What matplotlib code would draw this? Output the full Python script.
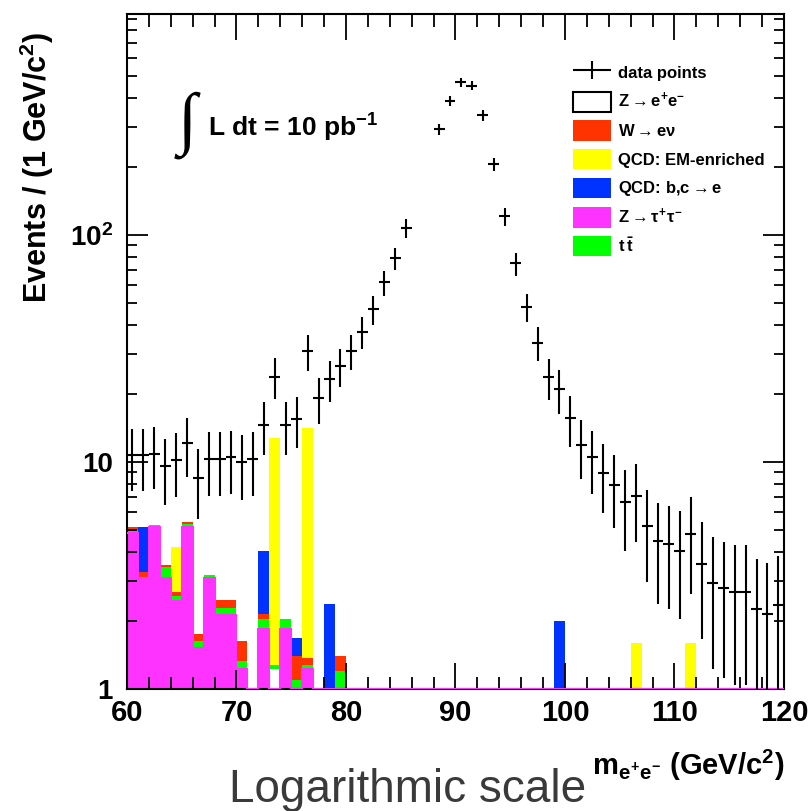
import numpy as np
import matplotlib
matplotlib.use("Agg")
import matplotlib.pyplot as plt
from matplotlib.patches import Patch
from matplotlib.legend_handler import HandlerErrorbar
from matplotlib.ticker import FixedLocator, MultipleLocator, FuncFormatter, LogLocator, NullFormatter

plt.rcParams['font.family'] = ['Liberation Sans', 'DejaVu Sans']
plt.rcParams['font.weight'] = 'bold'
plt.rcParams['mathtext.fontset'] = 'custom'
plt.rcParams['mathtext.rm'] = 'Liberation Sans:bold'
plt.rcParams['mathtext.it'] = 'Liberation Sans:bold'
plt.rcParams['mathtext.bf'] = 'Liberation Sans:bold'

# 1 GeV bins from 60 to 120
bin_edges = np.arange(60, 121, 1)

# observed events per bin (nan = no point drawn)
data_points = [
    10.7, 10.7, 10.9, 9.6, 10.2, 12.1, 8.5, 10.3, 10.3, 10.5,
    10.0, 10.3, 14.5, 23.8, 14.5, 15.5, 30.8, 19.1, 23.2, 26.5,
    30.9, 37.5, 47.2, 61.9, 78.9, 107, np.nan, np.nan, 293, 389,
    473, 455, 338, 205, 121, 75, 48.2, 33.6, 23.6, 20.9,
    15.6, 11.9, 10.5, 8.97, 7.92, 6.64, 7.10, 5.24, 4.50, 4.34,
    4.05, 4.80, 3.55, 2.94, 2.79, 2.68, 2.68, 2.25, 2.14, 2.34,
]

# MC contributions per bin, stacked bottom -> top
z_ee = [0] * 13 + [1.22] + [0] * 46
z_tautau = [
    4.85, 3.08, 5.19, 3.08, 2.44, 5.20, 1.51, 3.08, 2.12, 2.12,
    1.22, 0, 1.83, 0, 1.83, 0, 1.22, 0, 0, 0,
] + [0] * 40
ttbar = [
    0.17, 0, 0.09, 0.38, 0.13, 0.15, 0.11, 0.10, 0.15, 0.15,
    0.11, 0, 0.20, 0.06, 0.20, 1.10, 0.06, 0, 0, 1.20,
] + [0] * 40
w_enu = [
    0.17, 0.21, 0, 0.06, 0.10, 0.10, 0.12, 0, 0.20, 0.20,
    0.29, 0, 0.11, 0, 0, 0.30, 0.09, 0, 0, 0.20,
] + [0] * 40
qcd_bce = [
    0, 1.90, 0, 0, 0, 0, 0, 0, 0, 0,
    0, 0, 1.93, 0, 0, 0.27, 0, 0, 2.38, 0,
] + [0] * 19 + [2.0] + [0] * 20
qcd_em = [
    0, 0, 0, 0, 1.54, 0, 0, 0, 0, 0,
    0, 0, 0, 11.5, 0, 0, 12.8, 0, 0, 0,
] + [0] * 26 + [1.59] + [0] * 4 + [1.59] + [0] * 8

col_red = '#ff3300'
col_yellow = '#ffff00'
col_blue = '#0033ff'
col_magenta = '#ff33ff'
col_green = '#00ff00'

fig = plt.figure(figsize=(8.11, 8.11), dpi=100)
ax = fig.add_axes([0.1566, 0.1504, 0.81, 0.8323])

centers = bin_edges[:-1] + 0.5
left = bin_edges[:-1]

stack = [
    (z_ee, 'white'),
    (z_tautau, col_magenta),
    (ttbar, col_green),
    (w_enu, col_red),
    (qcd_bce, col_blue),
    (qcd_em, col_yellow),
]
bottom = np.zeros(len(centers))
for vals, col in stack:
    vals = np.array(vals, dtype=float)
    mask = vals > 0
    ax.bar(left[mask], vals[mask], width=1.0, bottom=bottom[mask], align='edge',
           color=col, linewidth=0, zorder=1)
    bottom = bottom + vals

ax.set_yscale('log')
ymin, ymax = 1, 942
ax.set_xlim(60, 120)
ax.set_ylim(ymin, ymax)

# Z->tautau outline, sits on the floor where it is empty
tau_line = np.maximum(np.array(z_tautau, dtype=float), ymin)
ax.stairs(tau_line, bin_edges, color=col_magenta, linewidth=1.5, zorder=3, baseline=None)

d = np.array(data_points, dtype=float)
eb = ax.errorbar(centers, d, xerr=0.5, yerr=np.sqrt(d), fmt='none',
                 ecolor='black', elinewidth=1.5, capsize=0, zorder=4)

# ticks, ROOT style
ax.xaxis.set_major_locator(MultipleLocator(10))
ax.xaxis.set_minor_locator(MultipleLocator(2))
ax.yaxis.set_major_locator(FixedLocator([1, 10, 100]))
ax.yaxis.set_minor_locator(LogLocator(base=10, subs=np.arange(2, 10)))
ax.yaxis.set_minor_formatter(NullFormatter())


def ylab(v, pos):
    if v >= 100:
        return r'$10^{%d}$' % int(round(np.log10(v)))
    return '%d' % v


ax.yaxis.set_major_formatter(FuncFormatter(ylab))
ax.tick_params(axis='x', which='major', direction='in', length=19, width=1.3,
               top=True, labelsize=21, pad=7)
ax.tick_params(axis='x', which='minor', direction='in', length=9, width=1.3, top=True)
ax.tick_params(axis='y', which='major', direction='in', length=15, width=1.3,
               right=True, labelsize=20, pad=10)
ax.tick_params(axis='y', which='minor', direction='in', length=7.5, width=1.3, right=True)
for sp in ax.spines.values():
    sp.set_linewidth(1.5)

fig.text(0.046, 0.793, r'Events / (1 GeV/c$^{2}$)', rotation=90, ha='center', va='center',
         fontsize=22, fontweight='bold')
fig.text(0.9667, 0.056, r'm$_{e^{+}e^{-}}$ (GeV/c$^{2}$)', ha='right', va='center',
         fontsize=21, fontweight='bold')
fig.text(0.502, 0.026, 'Logarithmic scale', ha='center', va='center', fontsize=33,
         fontweight='normal', color='#3a3a3a')

ax.text(0.092, 0.836, '\u222b', transform=ax.transAxes, fontsize=50, ha='center',
        va='center', fontweight='normal', family='Liberation Serif')
ax.text(0.124, 0.831, r'L dt = 10 pb$^{-1}$', transform=ax.transAxes, fontsize=19,
        ha='left', va='center', fontweight='bold')

handles = [
    eb,
    Patch(facecolor='white', edgecolor='black', linewidth=1.5),
    Patch(facecolor=col_red),
    Patch(facecolor=col_yellow),
    Patch(facecolor=col_blue),
    Patch(facecolor=col_magenta),
    Patch(facecolor=col_green),
]
labels = [
    'data points',
    r'Z$\rightarrow$e$^{+}$e$^{-}$',
    r'W$\rightarrow$e$\nu$',
    'QCD: EM-enriched',
    r'QCD: b,c$\rightarrow$e',
    r'Z$\rightarrow\tau^{+}\tau^{-}$',
    r't$\,\bar{\mathrm{t}}$',
]
fig.legend(handles, labels, loc='upper left', bbox_to_anchor=(0.706, 0.923),
           frameon=False, fontsize=12, handlelength=2.3, handleheight=1.5,
           labelspacing=0.5, handletextpad=0.45, borderpad=0, borderaxespad=0,
           handler_map={type(eb): HandlerErrorbar(xerr_size=1.15, yerr_size=0.55)})

fig.savefig('out.png', dpi=100)
